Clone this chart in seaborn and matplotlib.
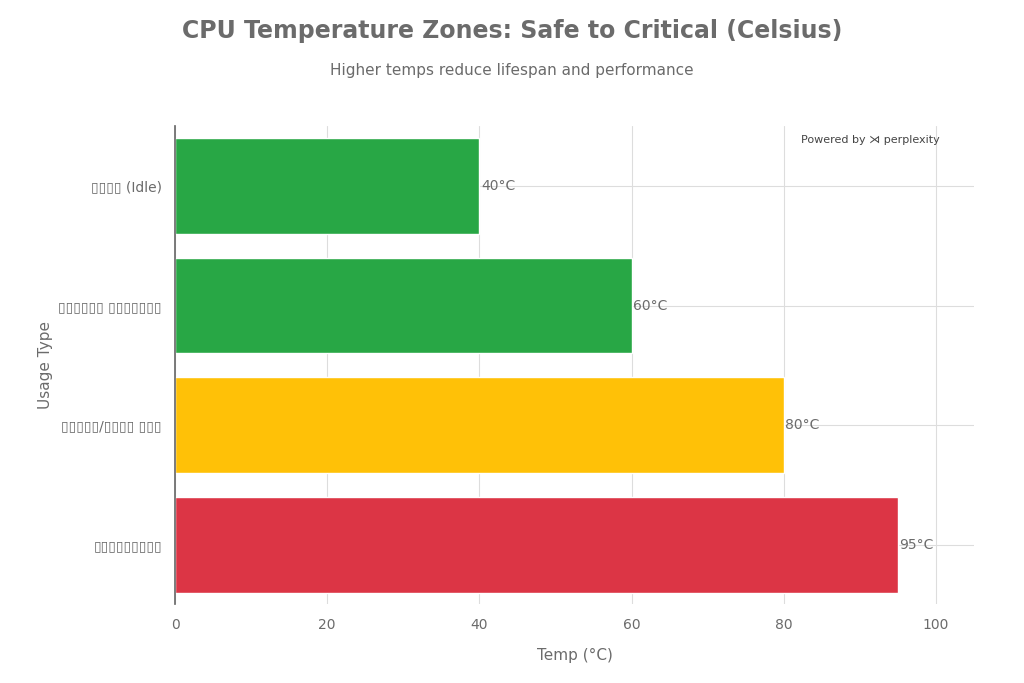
import matplotlib
matplotlib.use("Agg")
import matplotlib.pyplot as plt
import seaborn as sns
import pandas as pd

# labels rendered as missing-glyph boxes in the reference
usage = ["▯▯▯▯ (Idle)", "▯▯▯▯▯▯ ▯▯▯▯▯▯▯", "▯▯▯▯▯/▯▯▯▯ ▯▯▯", "▯▯▯▯▯▯▯▯▯"]
temps = [40, 60, 80, 95]
colors = ["#28a745", "#28a745", "#ffc107", "#dc3545"]

df = pd.DataFrame({"usage": usage, "temp": temps})

sns.set_theme(style="whitegrid")
plt.rcParams["font.family"] = ["DejaVu Sans"]
grey = "#6b6b6b"

fig = plt.figure(figsize=(10.24, 6.83), dpi=100)
ax = fig.add_axes([0.171, 0.115, 0.78, 0.70])
sns.barplot(data=df, x="temp", y="usage", hue="usage", palette=colors,
            legend=False, width=0.8, saturation=1, ax=ax)

for i, t in enumerate(temps):
    ax.text(t + 0.2, i, f"{t}°C", va="center", ha="left", fontsize=10, color=grey)

ax.set_xlim(0, 105)
ax.set_xticks([0, 20, 40, 60, 80, 100])
ax.grid(True, color="#dddddd", linewidth=0.8)
ax.set_axisbelow(True)
for s in ["top", "right", "bottom"]:
    ax.spines[s].set_visible(False)
ax.spines["left"].set_color(grey)
ax.tick_params(colors=grey, labelsize=10)
ax.set_xlabel("Temp (°C)", color=grey, fontsize=11, labelpad=12)
ax.set_ylabel("Usage Type", color=grey, fontsize=11)

fig.text(0.5, 0.945, "CPU Temperature Zones: Safe to Critical (Celsius)",
         ha="center", fontsize=17, fontweight="bold", color=grey)
fig.text(0.5, 0.89, "Higher temps reduce lifespan and performance",
         ha="center", fontsize=11, color=grey)
fig.text(0.918, 0.79, "Powered by ⋊ perplexity", ha="right", fontsize=8, color="#444444")

fig.savefig("out.png", dpi=100)
